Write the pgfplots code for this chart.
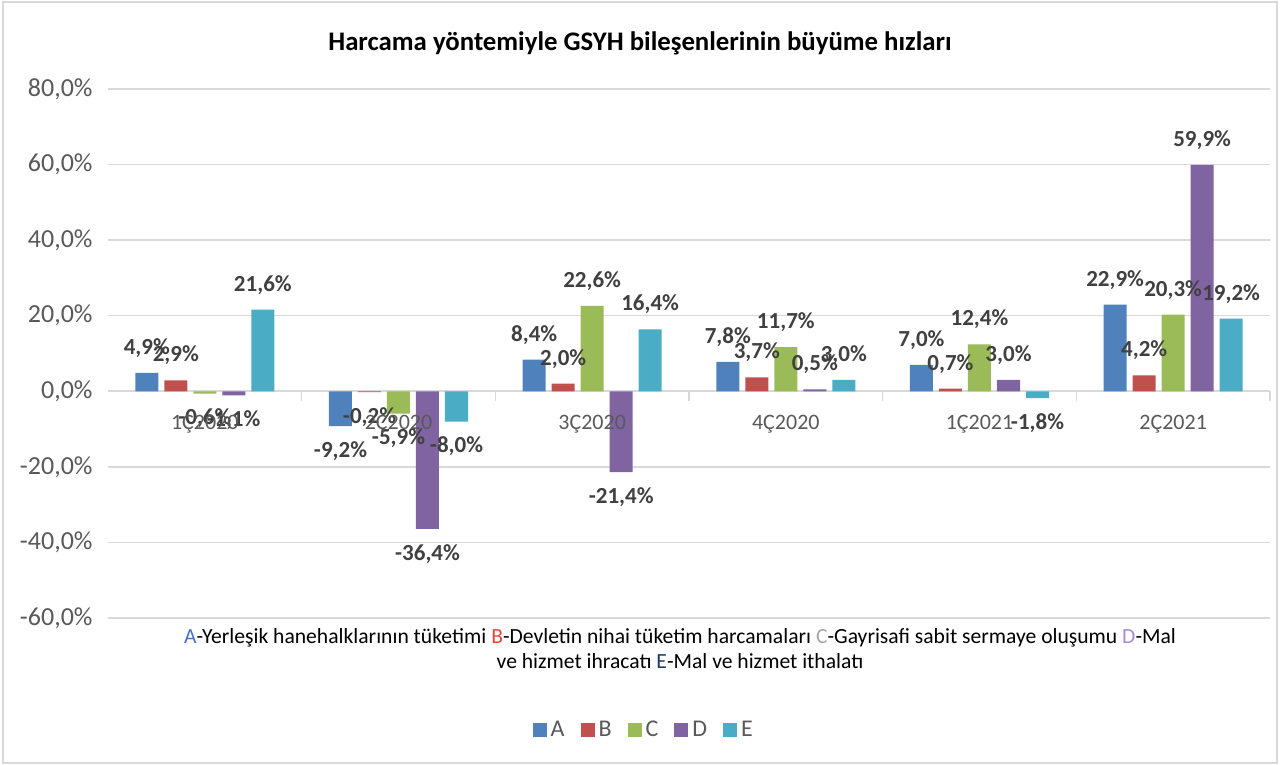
\documentclass[border=0pt]{standalone}
\usepackage{pgfplots}
\pgfplotsset{compat=1.18}
\usepackage{fontspec}
\setmainfont{Carlito}
\definecolor{cA}{HTML}{4F81BD}
\definecolor{cB}{HTML}{C0504D}
\definecolor{cC}{HTML}{9BBB59}
\definecolor{cD}{HTML}{8064A2}
\definecolor{cE}{HTML}{4BACC6}
\definecolor{lbl}{HTML}{404040}
\definecolor{tck}{HTML}{595959}
\definecolor{grd}{HTML}{D9D9D9}
\pgfplotsset{frame/.style={at={(54pt,73.5pt)},anchor=south west,
scale only axis,width=581pt,height=264.5pt,
xmin=-0.5,xmax=5.5,ymin=-60,ymax=80,clip=false}}
\begin{document}
\begin{tikzpicture}[x=1pt,y=1pt]
\path[use as bounding box] (0,0) rectangle (640,382.5);
\draw[grd,line width=0.6pt] (1.5,1) rectangle (638.5,381.5);
\begin{axis}[frame,
ybar=3pt,bar width=11.5pt,
ytick={-60,-40,...,80},
xtick={-0.5,0.5,...,5.5},xticklabels={},
axis x line=middle,axis y line=left,
x axis line style={grd,line width=0.8pt,-},
y axis line style={draw=none},
ytick style={draw=none},
xtick style={grd,line width=0.8pt},
tick align=outside,major tick length=5pt,
ymajorgrids=true,grid style={grd,line width=0.8pt},
/pgf/number format/.cd,use comma,fixed,fixed zerofill,precision=1,assume math mode=true,
/pgfplots/.cd,
yticklabel={\pgfmathprintnumber{\tick}\%},
tick label style={font=\fontsize{13}{15}\selectfont,text=tck},
y tick label style={xshift=0.8pt},
nodes near coords={\pgfmathprintnumber{\pgfplotspointmeta}\%},
every node near coord/.append style={font=\fontsize{11.5}{13}\selectfont\bfseries,text=lbl,inner xsep=0pt,inner ysep=7.5pt},
legend style={at={(0.462,-0.2117)},anchor=center,draw=none,legend columns=-1,
font=\fontsize{12}{14}\selectfont,text=tck,
/tikz/every even column/.append style={column sep=6pt}},
legend image code/.code={\draw[#1,draw=none] (0pt,-3.5pt) rectangle (7pt,3.5pt);},
]
\addplot[fill=cA,draw=none] coordinates {(0,4.9)(1,-9.2)(2,8.4)(3,7.8)(4,7.0)(5,22.9)};
\addplot[fill=cB,draw=none] coordinates {(0,2.9)(1,-0.2)(2,2.0)(3,3.7)(4,0.7)(5,4.2)};
\addplot[fill=cC,draw=none] coordinates {(0,-0.6)(1,-5.9)(2,22.6)(3,11.7)(4,12.4)(5,20.3)};
\addplot[fill=cD,draw=none] coordinates {(0,-1.1)(1,-36.4)(2,-21.4)(3,0.5)(4,3.0)(5,59.9)};
\addplot[fill=cE,draw=none] coordinates {(0,21.6)(1,-8.0)(2,16.4)(3,3.0)(4,-1.8)(5,19.2)};
\legend{A,B,C,D,E}
\end{axis}
% category names, drawn after the bars so they sit on top of them
\begin{axis}[frame,hide axis]
\addplot[draw=none,mark=none,point meta=explicit symbolic,nodes near coords,
every node near coord/.style={anchor=center,yshift=-16.5pt,font=\fontsize{11}{13}\selectfont,text=tck}]
coordinates {(0,0)[1Ç2020] (1,0)[2Ç2020] (2,0)[3Ç2020] (3,0)[4Ç2020] (4,0)[1Ç2021] (5,0)[2Ç2021]};
\end{axis}
\node at (320,361) {\fontsize{13.4}{15}\selectfont\bfseries Harcama yöntemiyle GSYH bileşenlerinin büyüme hızları};
\node[align=center,font=\fontsize{10.8}{12.5}\selectfont] at (340,58.25) {{\color[HTML]{4472C4}A}-Yerleşik hanehalklarının tüketimi {\color[HTML]{E8443A}B}-Devletin nihai tüketim harcamaları {\color[HTML]{A6A6A6}C}-Gayrisafi sabit sermaye oluşumu {\color[HTML]{A68BD8}D}-Mal\\ve hizmet ihracatı {\color[HTML]{1F3864}E}-Mal ve hizmet ithalatı};
\end{tikzpicture}
\end{document}
